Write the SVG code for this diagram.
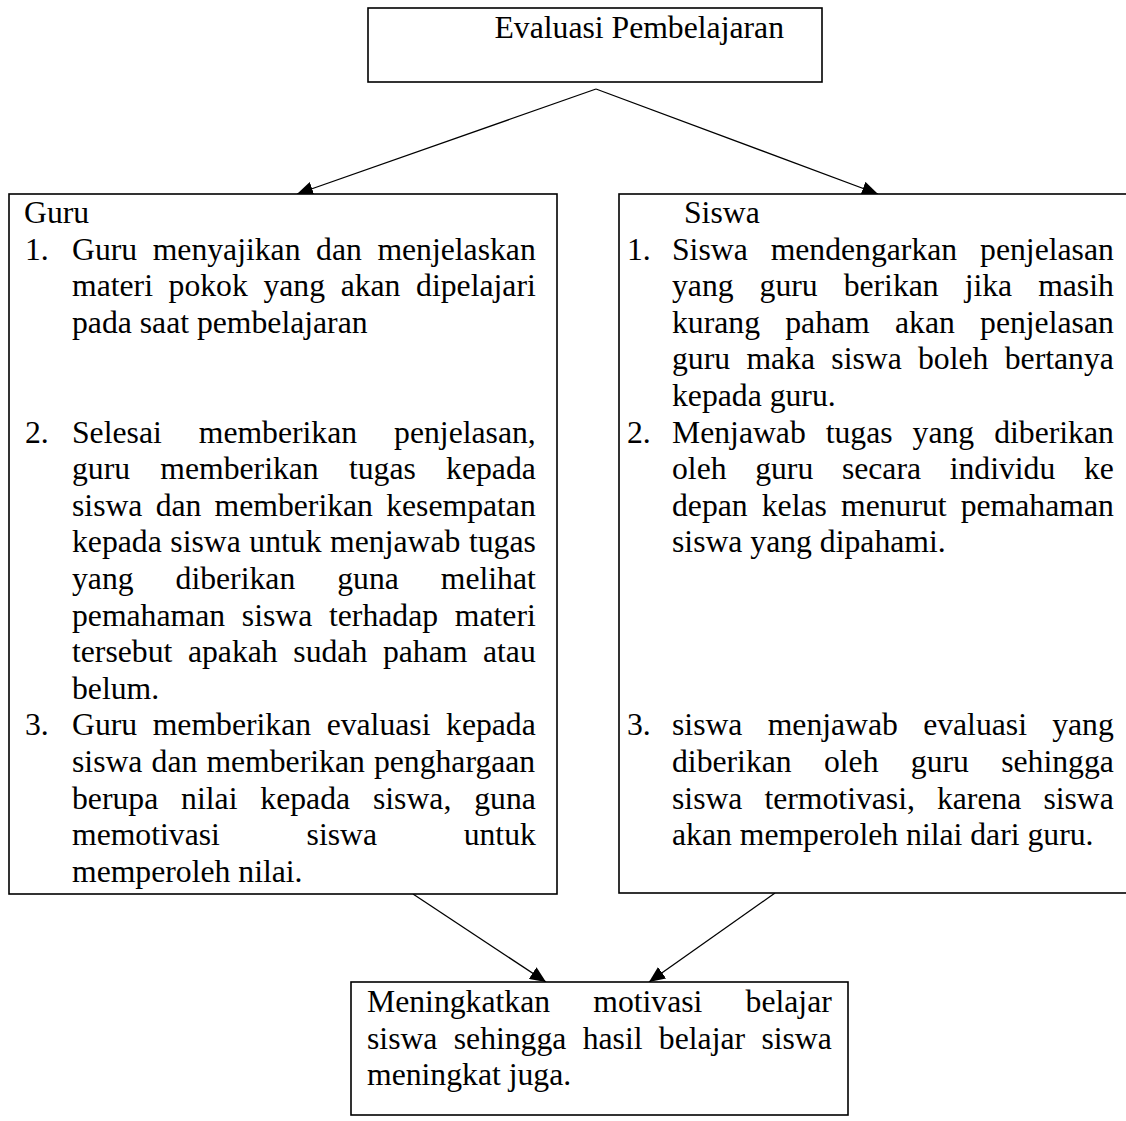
<svg xmlns="http://www.w3.org/2000/svg" width="1126" height="1121" viewBox="0 0 1126 1121">
<style>
.box{fill:#fff;stroke:#000;stroke-width:1.6}
.t{font-family:"Liberation Serif","Times New Roman",serif;font-size:31.7px;fill:#000}
.c{stroke:#000;stroke-width:1.3;fill:none}
</style>
<defs>
<marker id="ah" markerUnits="userSpaceOnUse" markerWidth="18" markerHeight="14" refX="16" refY="7" orient="auto">
<path d="M0,0 L16,7 L0,14 Z" fill="#000"/>
</marker>
</defs>
<rect width="1126" height="1121" fill="#fff"/>
<g id="connectors">
<line class="c" x1="596" y1="89" x2="297" y2="194" marker-end="url(#ah)"/>
<line class="c" x1="596" y1="89" x2="878" y2="194" marker-end="url(#ah)"/>
<line class="c" x1="413" y1="894" x2="546" y2="982" marker-end="url(#ah)"/>
<line class="c" x1="775" y1="893" x2="649" y2="982" marker-end="url(#ah)"/>
</g>
<g id="evaluasi">
<rect class="box" x="368" y="8" width="454" height="74"/>
<text class="t" x="494.5" y="38">Evaluasi Pembelajaran</text>
</g>
<g id="guru">
<rect class="box" x="9" y="194" width="548" height="700"/>
<text class="t" x="24" y="223">Guru</text>
<text class="t" x="25" y="259.6">1.</text>
<text class="t" x="72" y="259.6" word-spacing="7.64">Guru menyajikan dan menjelaskan</text>
<text class="t" x="72" y="296.2" word-spacing="7.71">materi pokok yang akan dipelajari</text>
<text class="t" x="72" y="332.8">pada saat pembelajaran</text>
<text class="t" x="25" y="442.6">2.</text>
<text class="t" x="72" y="442.6" word-spacing="29.07">Selesai memberikan penjelasan,</text>
<text class="t" x="72" y="479.2" word-spacing="22.32">guru memberikan tugas kepada</text>
<text class="t" x="72" y="515.8" word-spacing="5.29">siswa dan memberikan kesempatan</text>
<text class="t" x="72" y="552.4" word-spacing="0.67">kepada siswa untuk menjawab tugas</text>
<text class="t" x="72" y="589" word-spacing="34.05">yang diberikan guna melihat</text>
<text class="t" x="72" y="625.6" word-spacing="8.83">pemahaman siswa terhadap materi</text>
<text class="t" x="72" y="662.2" word-spacing="7.72">tersebut apakah sudah paham atau</text>
<text class="t" x="72" y="698.8">belum.</text>
<text class="t" x="25" y="735.4">3.</text>
<text class="t" x="72" y="735.4" word-spacing="7.65">Guru memberikan evaluasi kepada</text>
<text class="t" x="72" y="772" word-spacing="1.2">siswa dan memberikan penghargaan</text>
<text class="t" x="72" y="808.6" word-spacing="14.98">berupa nilai kepada siswa, guna</text>
<text class="t" x="72" y="845.2" word-spacing="78.78">memotivasi siswa untuk</text>
<text class="t" x="72" y="881.8">memperoleh nilai.</text>
</g>
<g id="siswa">
<rect class="box" x="619" y="194" width="520" height="699"/>
<text class="t" x="684" y="223">Siswa</text>
<text class="t" x="627" y="259.6">1.</text>
<text class="t" x="672" y="259.6" word-spacing="15.0">Siswa mendengarkan penjelasan</text>
<text class="t" x="672" y="296.2" word-spacing="18.06">yang guru berikan jika masih</text>
<text class="t" x="672" y="332.8" word-spacing="17.34">kurang paham akan penjelasan</text>
<text class="t" x="672" y="369.4" word-spacing="8.38">guru maka siswa boleh bertanya</text>
<text class="t" x="672" y="406">kepada guru.</text>
<text class="t" x="627" y="442.6">2.</text>
<text class="t" x="672" y="442.6" word-spacing="12.05">Menjawab tugas yang diberikan</text>
<text class="t" x="672" y="479.2" word-spacing="20.7">oleh guru secara individu ke</text>
<text class="t" x="672" y="515.8" word-spacing="6.19">depan kelas menurut pemahaman</text>
<text class="t" x="672" y="552.4">siswa yang dipahami.</text>
<text class="t" x="627" y="735.4">3.</text>
<text class="t" x="672" y="735.4" word-spacing="17.33">siswa menjawab evaluasi yang</text>
<text class="t" x="672" y="772" word-spacing="24.37">diberikan oleh guru sehingga</text>
<text class="t" x="672" y="808.6" word-spacing="14.1">siswa termotivasi, karena siswa</text>
<text class="t" x="672" y="845.2">akan memperoleh nilai dari guru.</text>
</g>
<g id="hasil">
<rect class="box" x="351" y="982" width="497" height="133"/>
<text class="t" x="367" y="1012" word-spacing="35.28">Meningkatkan motivasi belajar</text>
<text class="t" x="367" y="1048.6" word-spacing="8.4">siswa sehingga hasil belajar siswa</text>
<text class="t" x="367" y="1085.2">meningkat juga.</text>
</g>
</svg>
